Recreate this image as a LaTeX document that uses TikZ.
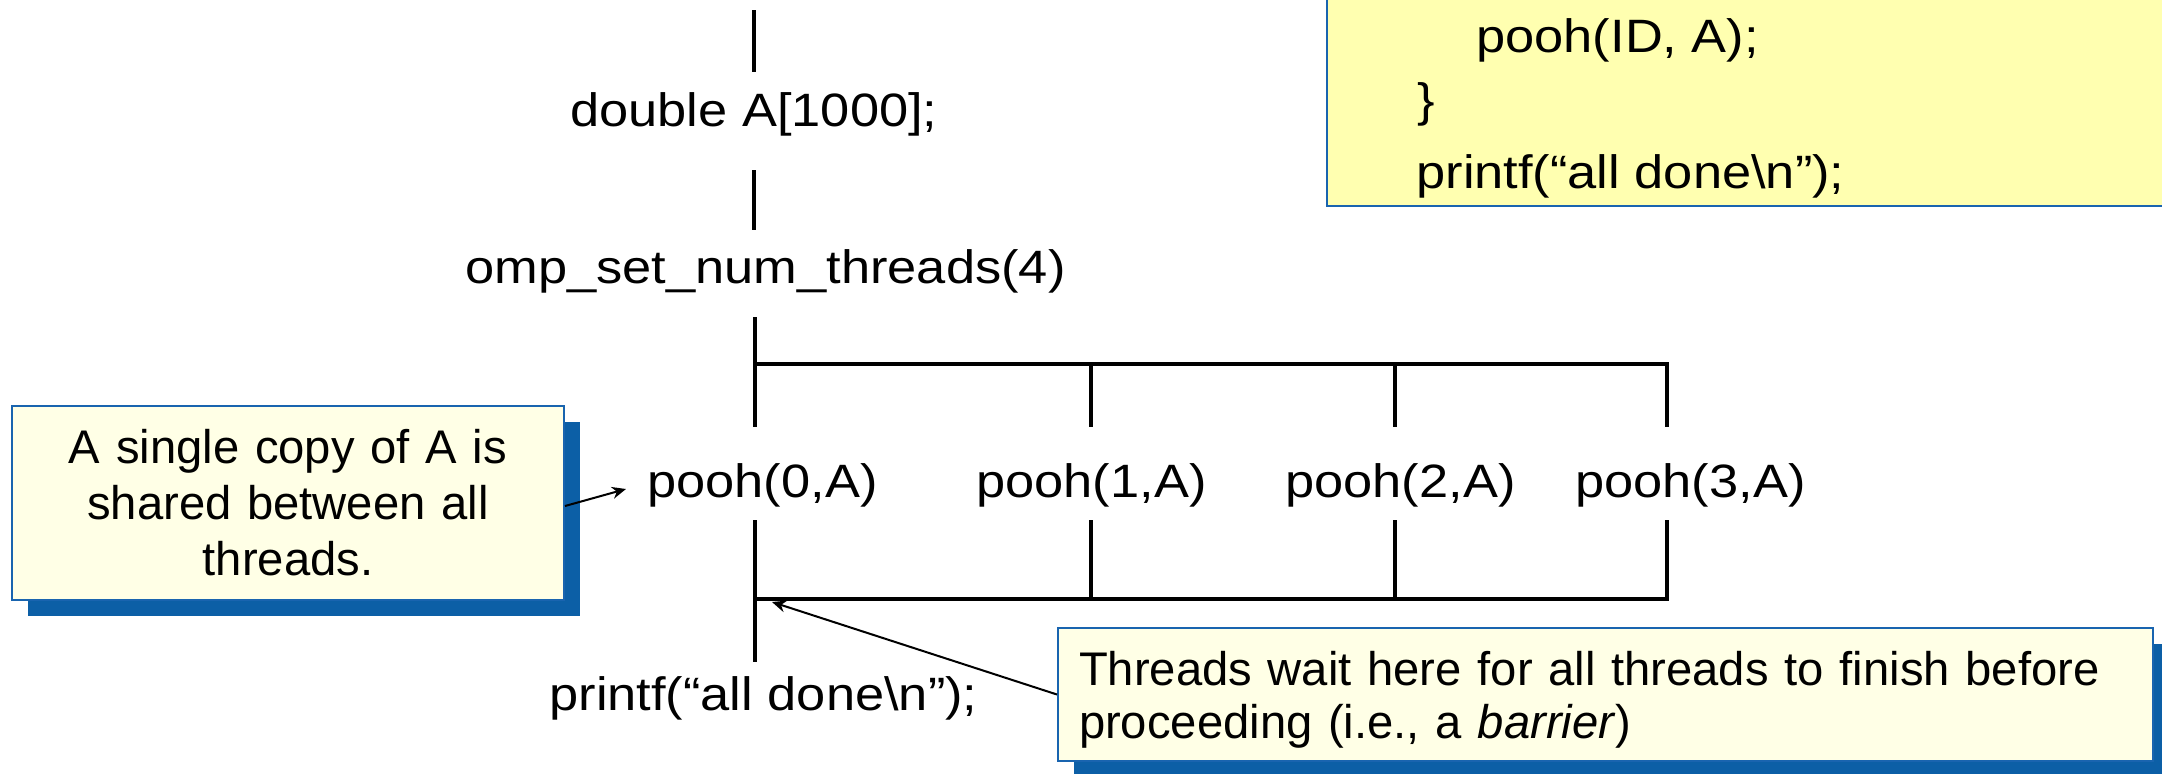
\documentclass[tikz,border=0pt]{standalone}
\usepackage{fontspec}
\setmainfont{Liberation Sans}
\newfontfamily\codefont[FakeStretch=1.12]{Liberation Sans}
\usetikzlibrary{arrows.meta,shadows}
\definecolor{shadowblue}{RGB}{12,95,166}
\definecolor{edgeblue}{RGB}{25,100,175}
\definecolor{notefill}{RGB}{255,255,230}
\definecolor{codefill}{RGB}{255,255,176}
\tikzset{
  code/.style={font=\codefont\fontsize{23.4pt}{27pt}\selectfont, inner sep=0pt, anchor=base west},
  notebox/.style={draw=edgeblue, fill=notefill, line width=1pt, inner sep=0pt,
    font=\fontsize{23.6pt}{28pt}\selectfont,
    drop shadow={shadow xshift=8pt, shadow yshift=-8pt, fill=shadowblue, opacity=1}},
  flow/.style={line width=2.4pt},
  pointer/.style={line width=1pt, -{Stealth[length=7pt,width=6pt]}},
}
\begin{document}
\begin{tikzpicture}[x=0.5pt,y=-0.5pt]
\useasboundingbox (0,0) rectangle (2162,773);
\clip (0,0) rectangle (2162,773);

% top-right code box
\node[draw=edgeblue, fill=codefill, line width=1pt, inner sep=0pt,
      minimum width=437pt, minimum height=113.5pt, anchor=south west] (codebox) at (1326,207) {};
\node[code] (tr1) at (1476,52) {pooh(ID, A);};
\node[code] (tr2) at (1417,116) {\}};
\node[code] (tr3) at (1416,188) {printf(“all done\textbackslash n”);};

% main flow text
\node[code] (dbl) at (570,126) {double A[1000];};
\node[code] (omp) at (465,283) {omp\_set\_num\_threads(4)};
\node[code] (p0) at (647,497) {pooh(0,A)};
\node[code] (p1) at (976,497) {pooh(1,A)};
\node[code] (p2) at (1285,497) {pooh(2,A)};
\node[code] (p3) at (1575,497) {pooh(3,A)};
\node[code] (pf) at (549,710) {printf(“all done\textbackslash n”);};

% coordinates of the flow lines
\coordinate (t0) at (754,10);   \coordinate (t1) at (754,72);
\coordinate (t2) at (754,170);  \coordinate (t3) at (754,230);
\coordinate (f0) at (755,317);  \coordinate (fm) at (755,364); \coordinate (f1) at (755,427);
\coordinate (fa) at (1091,364); \coordinate (fa2) at (1091,427);
\coordinate (fb) at (1395,364); \coordinate (fb2) at (1395,427);
\coordinate (fc) at (1667,364); \coordinate (fc2) at (1667,427);
\coordinate (j0) at (755,520);  \coordinate (jm) at (755,599); \coordinate (j1) at (755,662);
\coordinate (ja) at (1091,520); \coordinate (ja2) at (1091,599);
\coordinate (jb) at (1395,520); \coordinate (jb2) at (1395,599);
\coordinate (jc) at (1667,520); \coordinate (jc2) at (1667,599);
\coordinate (barrierpt) at (772,602);
\coordinate (sharedpt) at (626,489);

\draw[flow] (t0) -- (t1);
\draw[flow] (t2) -- (t3);
\draw[flow] (f0) -- (f1);
\draw[flow] (fm) -- (fc) -- (fc2);
\draw[flow] (fa) -- (fa2);
\draw[flow] (fb) -- (fb2);
\draw[flow] (j0) -- (j1);
\draw[flow] (jc) -- (jc2) -- (jm);
\draw[flow] (ja) -- (ja2);
\draw[flow] (jb) -- (jb2);

% callouts
\node[notebox, minimum width=276pt, minimum height=97pt, text width=260pt, align=center]
  (noteA) at (288,503) {A single copy of A is\\ shared between all\\ threads.};
\node[notebox, minimum width=547.5pt, minimum height=66.5pt, text width=526.5pt, align=left,
  font=\fontsize{23.6pt}{26.5pt}\selectfont]
  (noteB) at (1605.5,694.5) {\rule{0pt}{22pt}Threads wait here for all threads to finish before\\ proceeding (i.e., a \textit{barrier})};

\draw[pointer] ([yshift=-1.5pt]noteA.east) -- (sharedpt);
\draw[pointer] (noteB.west) -- (barrierpt);
\end{tikzpicture}
\end{document}
